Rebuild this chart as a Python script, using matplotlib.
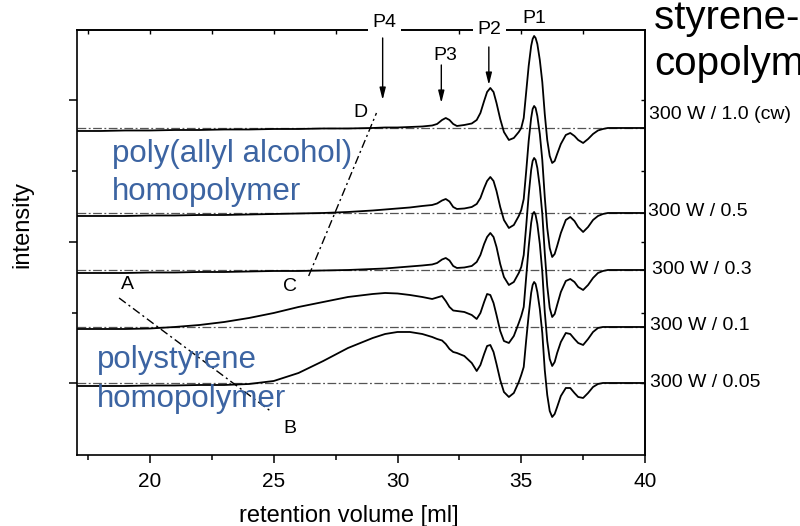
import matplotlib
matplotlib.use("Agg")
import matplotlib.pyplot as plt
from matplotlib.ticker import MultipleLocator

plt.rcParams['font.family'] = ['Liberation Sans', 'DejaVu Sans']

# retention volume grid [ml]
retention = [17.05, 18, 19, 20, 21, 22, 23, 24, 25, 26, 27, 28, 29,
             29.5, 30, 30.5, 31, 31.4, 31.6, 31.8, 31.95, 32.1, 32.25, 32.4, 32.7, 33.0,
             33.2, 33.35, 33.5, 33.62, 33.75, 33.88, 34.0, 34.15, 34.3, 34.5,
             34.7, 34.9, 35.0, 35.1, 35.2, 35.3, 35.4, 35.46, 35.52, 35.58,
             35.65, 35.75, 35.85, 35.95, 36.05, 36.15, 36.25, 36.35, 36.45, 36.6,
             36.8, 36.98, 37.15, 37.3, 37.5, 37.7, 37.9, 38.1, 38.3, 38.5,
             38.8, 39.2, 39.6, 40]

# detector signal of each sample relative to its own baseline (a.u.)
sig_cw = [-3, -3, -2.5, -2.5, -2, -2, -1.5, -1.5, -1, -1, -0.5, -0.5, 0,
          0.5, 0.5, 1, 1.5, 2.5, 4, 8, 10, 8, 4, 2, 3, 4.5,
          8, 15, 27, 36, 40, 36, 25, 9, -4, -12,
          -10, -4, 0, 10, 36, 62, 82, 89, 92, 90,
          84, 68, 46, 14, -12, -28, -35, -33, -26, -16,
          -7, -5, -8, -12, -15, -11, -6, -2.5, -1, 0,
          0, 0, 0, 0]
sig_05 = [-3, -3, -3, -2.5, -2.5, -2, -2, -1.5, -1, -0.5, 0, 1, 2.5,
          3.5, 4.5, 5.5, 7, 8, 9.5, 12.5, 14, 11.5, 6, 4, 4.5, 6,
          9, 15, 25, 32, 36, 32, 22, 6, -7, -15,
          -12, -3, 3, 14, 42, 72, 95, 104, 107, 105,
          97, 79, 53, 16, -15, -35, -44, -41, -33, -20,
          -7, -4, -8, -14, -19, -14, -7, -3, -1, 0,
          0, 0, 0, 0]
sig_03 = [-3, -3, -3, -2.5, -2.5, -2, -2, -1.5, -1, -1, -0.5, 0, 1,
          1.5, 2.5, 3.5, 4.5, 5.5, 7, 10.5, 12, 9.5, 4, 2, 2.5, 4,
          8, 15, 26, 33, 37, 33, 23, 6, -7, -15,
          -12, -3, 3, 15, 44, 75, 100, 109, 112, 110,
          102, 83, 56, 17, -16, -38, -47, -44, -35, -22,
          -11, -9, -12, -17, -20, -15, -8, -3, -1, 0,
          0, 0, 0, 0]
sig_01 = [-2, -2, -2, -1.5, 0, 2, 5, 9, 14, 20, 25, 30, 33,
          34, 33.5, 32, 30, 28, 29.5, 31, 26, 20, 16.5, 16, 15, 12,
          8, 14, 25, 33, 32, 24, 12, -4, -14, -16,
          -9, 4, 11, 20, 50, 80, 104, 113, 115, 112,
          103, 83, 55, 15, -14, -32, -39, -35, -26, -15,
          -6, -7, -12, -16, -18, -12, -5, -1, 0, 0,
          0, 0, 0, 0]
sig_005 = [-3, -3, -3, -2.5, -2.5, -2, -2, -1, 2, 10, 22, 35, 45,
           49, 51, 51, 49, 46, 44, 42.5, 39, 34, 31, 30, 27, 20,
           12, 18, 29, 37, 38, 31, 19, 3, -9, -14,
           -10, 1, 8, 16, 43, 68, 90, 98, 101, 99,
           91, 74, 50, 13, -12, -28, -34, -31, -24, -13,
           -5, -5, -10, -14, -15, -10, -4, -1, 0, 0,
           0, 0, 0, 0]

signals = [sig_cw, sig_05, sig_03, sig_01, sig_005]
sample_labels = ["300 W / 1.0 (cw)", "300 W / 0.5", "300 W / 0.3",
                 "300 W / 0.1", "300 W / 0.05"]
offsets = [327, 242, 185, 128, 72]

# stacking / label placement
label_x = [1.007, 1.005, 1.012, 1.009, 1.009]
label_y = [340, 243, 185, 129, 72]

fig = plt.figure(figsize=(8, 5.26), dpi=100)
ax = fig.add_axes([0.09625, 0.135, 0.71, 0.808])

baseline_style = (0, (7, 2, 1.5, 2))
for off, sig in zip(offsets, signals):
    ax.axhline(off, color='#555555', lw=0.9, linestyle=baseline_style, zorder=1)
    ax.plot(retention, [off + s for s in sig], color='black', lw=1.3, zorder=2,
            solid_joinstyle='round')

for lab, lx, ly in zip(sample_labels, label_x, label_y):
    ax.annotate(lab, xy=(lx, ly), xycoords=('axes fraction', 'data'),
                va='center', ha='left', fontsize=14, annotation_clip=False)

ax.set_xlim(17.05, 40)
ax.set_ylim(0, 425)
ax.xaxis.set_major_locator(MultipleLocator(5))
ax.xaxis.set_minor_locator(MultipleLocator(2.5))
ax.set_yticks([72, 213, 355])
ax.set_yticks([142, 284], minor=True)
ax.set_yticklabels([])
for sp in ax.spines.values():
    sp.set_linewidth(1.2)
ax.tick_params(axis='both', which='major', direction='out', length=6, width=1.1,
               labelsize=15, pad=6)
ax.tick_params(axis='both', which='minor', direction='out', length=3.6, width=1.1)

sec_r = ax.secondary_yaxis('right')
sec_r.set_yticks([72, 142, 213, 284, 355])
sec_r.set_yticklabels([])
sec_r.tick_params(direction='in', length=3, width=1)
sec_r.spines['right'].set_linewidth(1.2)

sec_t = ax.secondary_xaxis('top')
sec_t.set_xticks([17.5, 20, 22.5, 25, 27.5, 30, 32.5, 35, 37.5])
sec_t.set_xticklabels([])
sec_t.tick_params(direction='in', length=3, width=1)
sec_t.spines['top'].set_linewidth(1.2)

ax.set_xlabel('retention volume [ml]', fontsize=17)
ax.xaxis.set_label_coords(0.479, -0.118)
ax.set_ylabel('intensity', fontsize=17)
ax.yaxis.set_label_coords(-0.0775, 0.542)

# peak markers
ax.text(29.48, 428, 'P4', fontsize=14, ha='center', va='baseline', clip_on=False,
        zorder=10, bbox=dict(boxstyle='square,pad=0.25', fc='white', ec='none'))
ax.text(33.71, 421, 'P2', fontsize=14, ha='center', va='baseline', clip_on=False,
        zorder=10, bbox=dict(boxstyle='square,pad=0.25', fc='white', ec='none'))
ax.text(35.52, 432, 'P1', fontsize=14, ha='center', va='baseline', clip_on=False,
        zorder=10)
ax.text(31.94, 395, 'P3', fontsize=14, ha='center', va='baseline', zorder=10)

arrow_props = dict(arrowstyle='-|>,head_length=0.6,head_width=0.15', color='black',
                   lw=1, mutation_scale=12, shrinkA=0, shrinkB=0)
for ax_x, y0, y1 in [(29.4, 417, 355), (31.77, 390, 352), (33.69, 408, 370)]:
    ax.annotate('', xy=(ax_x, y1), xytext=(ax_x, y0), arrowprops=arrow_props)

# guide lines A-B and C-D
guide_style = (0, (6, 2.5, 1.5, 2.5))
ax.plot([18.75, 24.92], [157, 43], color='black', lw=1, linestyle=guide_style)
ax.plot([26.41, 29.15], [179, 342], color='black', lw=1, linestyle=guide_style)
for txt, tx, ty in [('A', 19.07, 170), ('B', 25.65, 26), ('C', 25.65, 168), ('D', 28.5, 342)]:
    ax.text(tx, ty, txt, fontsize=14, ha='center', va='center')

blue = '#3c64a2'
ax.text(18.47, 293, 'poly(allyl alcohol)', color=blue, fontsize=22.5, va='baseline')
ax.text(18.47, 255, 'homopolymer', color=blue, fontsize=22.5, va='baseline')
ax.text(17.86, 87, 'polystyrene', color=blue, fontsize=22.5, va='baseline')
ax.text(17.86, 48, 'homopolymer', color=blue, fontsize=22.5, va='baseline')

fig.text(0.818, 1 - 29 / 526, 'styrene-allyl alcohol', fontsize=29, va='baseline')
fig.text(0.818, 1 - 75 / 526, 'copolymer', fontsize=29, va='baseline')

fig.savefig('out.png', dpi=100)
